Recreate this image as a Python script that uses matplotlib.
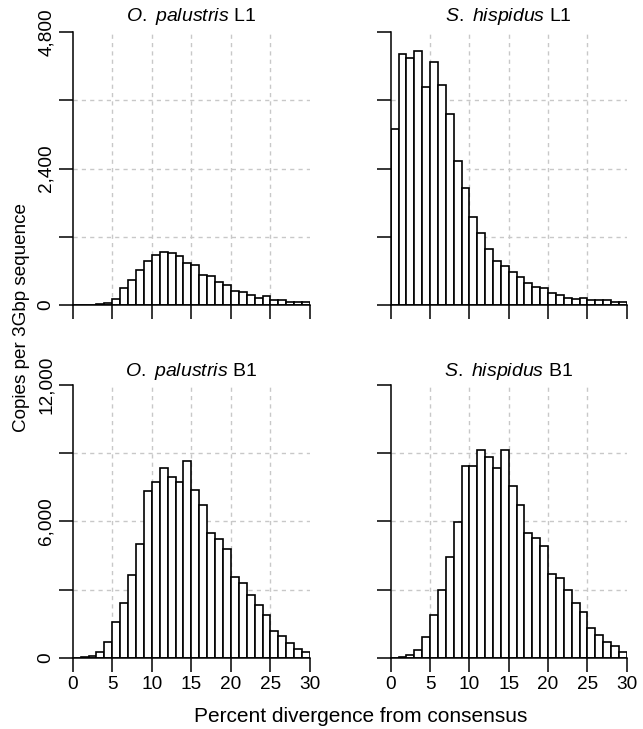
"""Repeat divergence histograms for L1 and B1 in two rodent genomes."""
import matplotlib
matplotlib.use('Agg')
import matplotlib.pyplot as plt
import numpy as np

plt.rcParams['font.family'] = ['Liberation Sans', 'DejaVu Sans']
plt.rcParams['mathtext.fontset'] = 'custom'
plt.rcParams['mathtext.rm'] = 'Liberation Sans'
plt.rcParams['mathtext.it'] = 'Liberation Sans:italic'

# 1% divergence bins, 0-30
bin_edges = np.arange(0, 30)

op_l1 = [0, 0, 5, 15, 40, 110, 305, 440, 615, 775, 880, 940, 920, 870, 745,
         700, 530, 510, 400, 350, 245, 225, 175, 130, 165, 95, 80, 60, 45, 45]
sh_l1 = [3090, 4420, 4355, 4465, 3830, 4280, 3870, 3360, 2535, 2065, 1555, 1260,
         980, 770, 690, 575, 500, 385, 325, 305, 215, 170, 130, 110, 130, 80, 80,
         80, 55, 45]
op_b1 = [0, 30, 90, 250, 705, 1585, 2390, 3640, 5000, 7335, 7715, 8345, 7965,
         7730, 8640, 7380, 6705, 5500, 5220, 4770, 3550, 3270, 2745, 2320, 1865,
         1175, 940, 630, 395, 250]
sh_b1 = [0, 45, 115, 335, 910, 1865, 2990, 4415, 5955, 8450, 8450, 9125, 8815,
         8360, 9125, 7555, 6705, 5485, 5265, 4915, 3665, 3490, 2965, 2390, 2010,
         1305, 1000, 705, 515, 250]

panels = [
    (r'$\mathit{O.}$ $\mathit{palustris}$ L1', op_l1, 'L1'),
    (r'$\mathit{S.}$ $\mathit{hispidus}$ L1', sh_l1, 'L1'),
    (r'$\mathit{O.}$ $\mathit{palustris}$ B1', op_b1, 'B1'),
    (r'$\mathit{S.}$ $\mathit{hispidus}$ B1', sh_b1, 'B1'),
]

y_ticks = {'L1': [0, 1200, 2400, 3600, 4800], 'B1': [0, 3000, 6000, 9000, 12000]}
y_labels = {'L1': ['0', '', '2,400', '', '4,800'], 'B1': ['0', '', '6,000', '', '12,000']}
x_ticks = [0, 5, 10, 15, 20, 25, 30]

W, H = 643, 729
fig = plt.figure(figsize=(W / 100, H / 100), dpi=100)

# axes boxes in pixels: left, right, top, bottom
boxes = [(72.7, 310, 32.3, 305), (390.7, 626.7, 32.3, 305),
         (72.7, 310, 385, 657.7), (390.7, 626.7, 385, 657.7)]

grid_kw = dict(color='#c8c8c8', lw=1.0, ls=(0, (3, 3)), zorder=0)

for i, ((title, counts, rep), (l, r, t, b)) in enumerate(zip(panels, boxes)):
    ax = fig.add_axes([l / W, 1 - b / H, (r - l) / W, (b - t) / H])
    ticks = y_ticks[rep]
    top = ticks[-1]
    for gx in x_ticks[1:-1]:
        ax.plot([gx, gx], [0, top], **grid_kw)
    for gy in ticks[1:-1]:
        ax.axhline(gy, **grid_kw)
    ax.bar(bin_edges, counts, width=1, align='edge', color='white',
           edgecolor='black', linewidth=1.2, zorder=2)
    ax.set_xlim(0, 30)
    ax.set_ylim(0, top)
    for s in ['top', 'right']:
        ax.spines[s].set_visible(False)
    for s in ['left', 'bottom']:
        ax.spines[s].set_linewidth(1.1)
        ax.spines[s].set_zorder(3)
    ax.tick_params(length=10, width=1.1, labelsize=13.7, pad=3)
    ax.set_xticks(x_ticks)
    ax.set_yticks(ticks)
    if i % 2 == 0:
        ax.set_yticklabels(y_labels[rep], rotation=90, va='center')
    else:
        ax.set_yticklabels([])
    if i >= 2:
        ax.set_xticklabels([str(v) for v in x_ticks])
    else:
        ax.set_xticklabels([])
    ax.set_title(title, fontsize=14, pad=8 if i < 2 else 6.5)

fig.text(360.5 / W, 1 - 722 / H, 'Percent divergence from consensus',
         ha='center', va='baseline', fontsize=15)
fig.text(22 / W, 1 - 318 / H, 'Copies per 3Gbp sequence', rotation=90,
         ha='center', va='center', fontsize=13.6)

fig.savefig('out.png', dpi=100)
